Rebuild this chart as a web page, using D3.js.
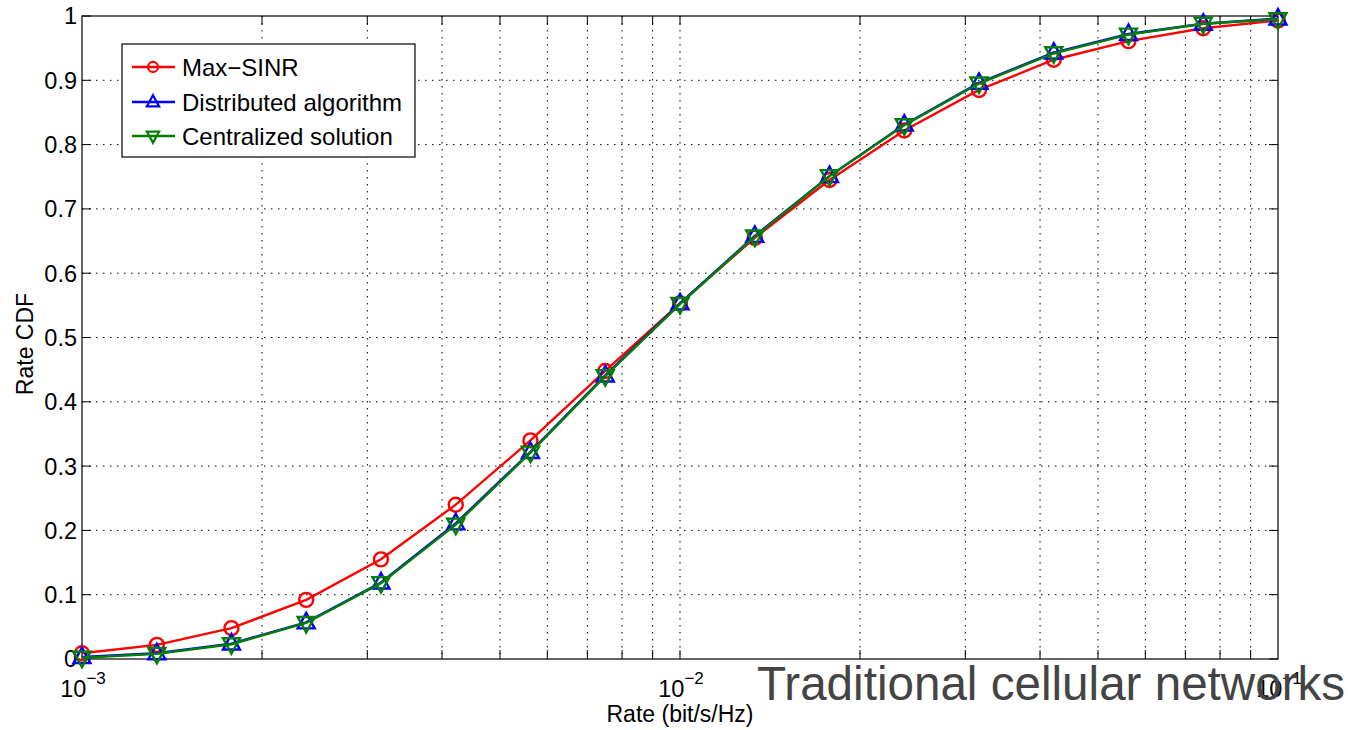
<!DOCTYPE html>
<html>
<head>
<meta charset="utf-8">
<script src="https://cdn.jsdelivr.net/npm/d3@7"></script>
<style>
  body { margin: 0; background: #fff; }
  svg { display: block; font-family: "Liberation Sans", Arial, Helvetica, sans-serif; }
</style>
</head>
<body>
<svg id="chart" width="1348" height="730"></svg>
<script>
// rate points (bit/s/Hz), 8 per decade
let rates = [0.001, 0.001334, 0.001778, 0.002371, 0.003162, 0.004217, 0.005623, 0.007499,
    0.01, 0.013335, 0.017783, 0.023714, 0.031623, 0.04217, 0.056234, 0.074989, 0.1];

let maxSinr = [0.009, 0.022, 0.048, 0.092, 0.155, 0.24, 0.34, 0.448, 0.553, 0.655, 0.745,
    0.822, 0.885, 0.932, 0.961, 0.981, 0.993];
let distributed = [0.003, 0.009, 0.024, 0.057, 0.119, 0.211, 0.322, 0.441, 0.553, 0.658, 0.751,
    0.831, 0.896, 0.943, 0.972, 0.988, 0.996];
let centralized = [0.002, 0.008, 0.023, 0.056, 0.118, 0.209, 0.321, 0.44, 0.552, 0.657, 0.751,
    0.83, 0.895, 0.942, 0.971, 0.988, 0.995];

let seriesNames = ["Max\u2212SINR", "Distributed algorithm", "Centralized solution"];
let yTicks = [0, 0.1, 0.2, 0.3, 0.4, 0.5, 0.6, 0.7, 0.8, 0.9, 1];
let xMajor = [0.001, 0.01, 0.1];
let xMajorExp = ["\u22123", "\u22122", "\u22121"];

let svg = d3.select("#chart");
let margin = {left: 82, top: 16, right: 70, bottom: 71};
let width = 1348 - margin.left - margin.right;
let height = 730 - margin.top - margin.bottom;

let x = d3.scaleLog().domain([0.001, 0.1]).range([0, width]);
let y = d3.scaleLinear().domain([0, 1]).range([height, 0]);

let g = svg.append("g").attr("transform", `translate(${margin.left},${margin.top})`);

// minor positions 2..9 of each decade plus 10^-2
let xGrid = x.ticks().filter(v => v > 0.001 && v < 0.1);

// grid
g.append("g").selectAll("line").data(xGrid).enter().append("line")
    .attr("x1", d => x(d)).attr("x2", d => x(d))
    .attr("y1", 0).attr("y2", height)
    .style("stroke", "#000").style("stroke-width", 1)
    .style("stroke-dasharray", "1.5,5.5");
g.append("g").selectAll("line").data(yTicks.filter(v => v > 0 && v < 1)).enter().append("line")
    .attr("x1", 0).attr("x2", width)
    .attr("y1", d => y(d)).attr("y2", d => y(d))
    .style("stroke", "#000").style("stroke-width", 1)
    .style("stroke-dasharray", "1.5,5.5");

// inward ticks on all four sides
let tickLen = 9;
let ticks = g.append("g").style("stroke", "#000").style("stroke-width", 1);
xGrid.forEach(v => {
    ticks.append("line").attr("x1", x(v)).attr("x2", x(v)).attr("y1", height).attr("y2", height - tickLen);
    ticks.append("line").attr("x1", x(v)).attr("x2", x(v)).attr("y1", 0).attr("y2", tickLen);
});
yTicks.forEach(v => {
    ticks.append("line").attr("x1", 0).attr("x2", tickLen).attr("y1", y(v)).attr("y2", y(v));
    ticks.append("line").attr("x1", width).attr("x2", width - tickLen).attr("y1", y(v)).attr("y2", y(v));
});

// overlay caption (sits behind the tick labels)
svg.append("text")
    .attr("x", 757).attr("y", 700)
    .style("font-size", "47.6px")
    .style("fill", "#444")
    .text("Traditional cellular networks");

// y tick labels
g.append("g").selectAll("text").data(yTicks).enter().append("text")
    .attr("x", -5).attr("y", d => y(d))
    .attr("dy", "0.36em")
    .style("text-anchor", "end")
    .style("font-size", "23.5px")
    .text(d => d3.format("~g")(d));

// x tick labels 10^n
xMajor.forEach((v, i) => {
    let t = g.append("text")
        .attr("x", x(v) + 1).attr("y", height + 38)
        .style("text-anchor", "middle")
        .style("font-size", "23.5px");
    t.append("tspan").text("10");
    t.append("tspan").attr("dy", -13).style("font-size", "17px").text(xMajorExp[i]);
});

// axis labels
svg.append("text")
    .attr("x", margin.left + x(0.01)).attr("y", 722)
    .style("text-anchor", "middle")
    .style("font-size", "23px")
    .text("Rate (bit/s/Hz)");
svg.append("text")
    .attr("transform", "translate(33,344) rotate(-90)")
    .style("text-anchor", "middle")
    .style("font-size", "23px")
    .text("Rate CDF");

// box
g.append("rect").attr("width", width).attr("height", height)
    .style("fill", "none").style("stroke", "#000").style("stroke-width", 1.2);

// series
let colors = ["#ff0000", "#0000ff", "#007f00"];
let seriesData = [maxSinr, distributed, centralized];

function marker(sel, kind, s) {
    if (kind === 0) {
        sel.append("circle").attr("r", 7 * s);
    } else if (kind === 1) {
        sel.append("path").attr("d", `M0,${-9.5 * s}L${8.5 * s},${6 * s}L${-8.5 * s},${6 * s}Z`);
    } else {
        sel.append("path").attr("d", `M0,${9.5 * s}L${8.5 * s},${-6 * s}L${-8.5 * s},${-6 * s}Z`);
    }
}

let line = d3.line().x(d => x(d[0])).y(d => y(d[1]));

seriesData.forEach((vals, i) => {
    let pts = rates.map((r, j) => [r, vals[j]]);
    g.append("path")
        .datum(pts)
        .attr("d", line)
        .style("fill", "none")
        .style("stroke", colors[i])
        .style("stroke-width", 2.4);
    let m = g.append("g")
        .style("fill", "none").style("stroke", colors[i]).style("stroke-width", 2.4);
    pts.forEach(p => {
        let mg = m.append("g").attr("transform", `translate(${x(p[0])},${y(p[1])})`);
        marker(mg, i, 1);
    });
});

// legend
let legend = svg.append("g").attr("transform", "translate(122,44)");
legend.append("rect")
    .attr("width", 293).attr("height", 113)
    .style("fill", "#fff").style("stroke", "#000").style("stroke-width", 1.2);
let rowY = [23, 58, 92];
seriesNames.forEach((name, i) => {
    let row = legend.append("g").attr("transform", `translate(0,${rowY[i]})`);
    row.append("line").attr("x1", 10).attr("x2", 53).attr("y1", 0).attr("y2", 0)
        .style("stroke", colors[i]).style("stroke-width", 2.4);
    let mg = row.append("g").attr("transform", "translate(31,0)")
        .style("fill", "none").style("stroke", colors[i]).style("stroke-width", 2.2);
    marker(mg, i, 0.72);
    row.append("text")
        .attr("x", 60).attr("y", 0).attr("dy", "0.36em")
        .style("font-size", "24px")
        .text(name);
});
</script>
</body>
</html>
